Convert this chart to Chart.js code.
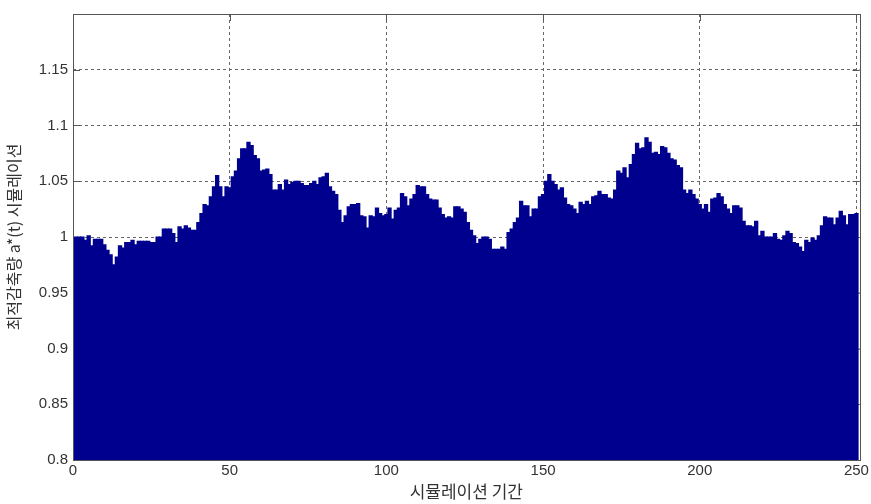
<!DOCTYPE html>
<html>
<head>
<meta charset="utf-8">
<script src="https://cdn.jsdelivr.net/npm/chart.js@4.4.1/dist/chart.umd.min.js"></script>
<style>
	html, body { margin: 0; padding: 0; background: #fff; }
	#wrap { width: 871px; height: 504px; }
</style>
</head>
<body>
<div id="wrap"><canvas id="reduction-chart"></canvas></div>
<script>
// 시뮬레이션 기간 1..250
const periods = Array.from({ length: 250 }, (_, i) => i + 1);

// 최적감축량 a*(t)
const reduction = [
	1.000, 1.000, 1.000, 0.997, 1.001, 0.992, 0.998, 0.998, 0.998, 0.993,
	0.988, 0.984, 0.975, 0.982, 0.992, 0.990, 0.995, 0.995, 0.997, 0.993,
	0.996, 0.996, 0.996, 0.996, 0.995, 0.995, 1.000, 1.000, 1.007, 1.007,
	1.007, 1.003, 0.995, 1.009, 1.007, 1.010, 1.008, 1.006, 1.006, 1.013,
	1.021, 1.029, 1.028, 1.036, 1.045, 1.055, 1.045, 1.036, 1.045, 1.044,
	1.054, 1.059, 1.070, 1.079, 1.079, 1.085, 1.082, 1.073, 1.070, 1.059,
	1.060, 1.061, 1.056, 1.042, 1.042, 1.047, 1.042, 1.051, 1.047, 1.049,
	1.050, 1.050, 1.048, 1.046, 1.046, 1.048, 1.050, 1.047, 1.053, 1.054,
	1.057, 1.045, 1.041, 1.038, 1.024, 1.013, 1.019, 1.027, 1.029, 1.029,
	1.030, 1.019, 1.018, 1.008, 1.019, 1.018, 1.026, 1.021, 1.019, 1.020,
	1.026, 1.016, 1.024, 1.026, 1.039, 1.036, 1.028, 1.034, 1.038, 1.046,
	1.045, 1.045, 1.038, 1.034, 1.033, 1.033, 1.026, 1.020, 1.017, 1.018,
	1.017, 1.027, 1.027, 1.025, 1.022, 1.013, 1.006, 1.001, 0.994, 0.998,
	1.000, 1.000, 0.998, 0.989, 0.989, 0.989, 0.991, 0.989, 1.004, 1.007,
	1.013, 1.017, 1.032, 1.028, 1.028, 1.018, 1.025, 1.025, 1.036, 1.038,
	1.050, 1.056, 1.050, 1.047, 1.042, 1.044, 1.035, 1.029, 1.028, 1.025,
	1.021, 1.031, 1.029, 1.032, 1.029, 1.036, 1.037, 1.041, 1.038, 1.038,
	1.035, 1.034, 1.042, 1.059, 1.057, 1.062, 1.053, 1.065, 1.074, 1.084,
	1.079, 1.080, 1.089, 1.085, 1.075, 1.076, 1.074, 1.081, 1.080, 1.075,
	1.070, 1.069, 1.064, 1.062, 1.042, 1.039, 1.042, 1.038, 1.034, 1.029,
	1.025, 1.029, 1.022, 1.034, 1.035, 1.039, 1.036, 1.029, 1.025, 1.021,
	1.028, 1.028, 1.026, 1.014, 1.010, 1.010, 1.009, 1.014, 1.001, 1.005,
	1.000, 1.000, 1.000, 1.003, 0.998, 0.997, 1.001, 1.005, 1.003, 0.995,
	0.994, 0.991, 0.987, 0.997, 0.995, 0.999, 0.997, 1.001, 1.010, 1.018,
	1.017, 1.017, 1.011, 1.017, 1.023, 1.019, 1.011, 1.020, 1.020, 1.021,
];

const xTickValues = [0, 50, 100, 150, 200, 250];
const yTickValues = [0.8, 0.85, 0.9, 0.95, 1, 1.05, 1.1, 1.15];

const axisColor = '#555';
const tickFont = { family: 'Liberation Sans, Arial, sans-serif', size: 15 };
const titleFont = { family: 'Noto Sans CJK KR, sans-serif', size: 16 };

// matlab style box with inner tick marks
const matlabBox = {
	id: 'matlabBox',
	beforeDatasetsDraw(chart) {
		const { ctx, chartArea: a, scales } = chart;
		ctx.save();
		ctx.strokeStyle = axisColor;
		ctx.lineWidth = 1;
		ctx.beginPath();
		yTickValues.forEach((v) => {
			const py = Math.round(scales.y.getPixelForValue(v)) + 0.5;
			ctx.moveTo(a.left, py);
			ctx.lineTo(a.left + 7, py);
			ctx.moveTo(a.right, py);
			ctx.lineTo(a.right - 7, py);
		});
		xTickValues.forEach((v) => {
			const px = Math.round(scales.x.getPixelForValue(v)) + 0.5;
			ctx.moveTo(px, a.bottom);
			ctx.lineTo(px, a.bottom - 7);
			ctx.moveTo(px, a.top);
			ctx.lineTo(px, a.top + 7);
		});
		ctx.stroke();
		ctx.restore();
	},
	afterDatasetsDraw(chart) {
		const { ctx, chartArea: a } = chart;
		ctx.save();
		ctx.strokeStyle = axisColor;
		ctx.lineWidth = 1;
		ctx.strokeRect(Math.round(a.left) + 0.5, Math.round(a.top) + 0.5,
			Math.round(a.right - a.left), Math.round(a.bottom - a.top));
		ctx.restore();
	},
};

const gridStyle = {
	color: '#666',
	lineWidth: 1,
	drawTicks: false,
	offset: false,
};

new Chart(document.getElementById('reduction-chart').getContext('2d'), {
	type: 'bar',
	data: {
		datasets: [
			{
				label: '최적감축량',
				data: reduction.map((v, i) => ({ x: periods[i], y: v })),
				backgroundColor: '#00008f',
				borderWidth: 0,
				barPercentage: 1,
				categoryPercentage: 1,
				inflateAmount: 0.6,
			},
		],
	},
	options: {
		responsive: true,
		maintainAspectRatio: false,
		animation: false,
		layout: { padding: { top: 8, right: 10, bottom: 0, left: 0 } },
		plugins: {
			legend: { display: false },
			tooltip: { enabled: false },
		},
		scales: {
			x: {
				type: 'linear',
				offset: false,
				min: 0,
				max: 251,
				afterBuildTicks: (s) => { s.ticks = xTickValues.map((v) => ({ value: v })); },
				afterFit: (s) => { s.height = 44; },
				grid: gridStyle,
				border: { display: false, dash: [3, 3] },
				ticks: { color: '#333', font: tickFont, padding: 2, maxRotation: 0, callback: (v) => String(v) },
				title: { display: true, text: '시뮬레이션 기간', color: '#333', font: { ...titleFont, size: 17 }, padding: { top: 0, bottom: 2 } },
			},
			y: {
				min: 0.8,
				max: 1.2,
				afterBuildTicks: (s) => { s.ticks = yTickValues.map((v) => ({ value: v })); },
				afterFit: (s) => { s.width = 73; },
				grid: gridStyle,
				border: { display: false, dash: [3, 3] },
				ticks: { color: '#333', font: tickFont, padding: 5, callback: (v) => String(v) },
				title: { display: true, text: '최적감축량 a*(t) 시뮬레이션', color: '#333', font: titleFont, padding: { top: 4, bottom: 0 } },
			},
		},
	},
	plugins: [matlabBox],
});
</script>
</body>
</html>
